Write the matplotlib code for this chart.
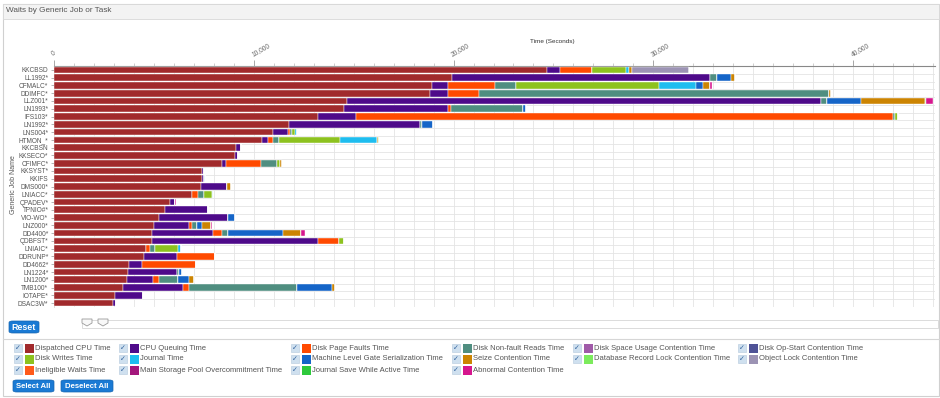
import matplotlib
matplotlib.use("Agg")
import matplotlib.pyplot as plt
from matplotlib.patches import Rectangle, FancyBboxPatch, Polygon
from matplotlib.lines import Line2D
import numpy as np

plt.rcParams['font.family'] = ['Liberation Sans', 'DejaVu Sans']

# ---------------- data ----------------
jobs = ["KKCBSD", "LL1992*", "CFMALC*", "DDIMFC*", "LLZ001*", "LN1993*", "IFS103*",
        "LN1992*", "LNS004*", "HTMON_*", "KKCBSN", "KKSECO*", "CFIMFC*", "KKSYST*",
        "KKIFS", "DMS000*", "LNIACC*", "QPADEV*", "TPNIO#*", "VIO-WO*", "LNZ000*",
        "DD4400*", "QDBFST*", "LNIAIC*", "DDRUNP*", "DD4662*", "LN1224*", "LN1200*",
        "TMB100*", "IOTAPE*", "DSAC3W*"]

dispatched_cpu = [24700, 19900, 18900, 18800, 14650, 14500, 13200, 11750, 10950, 10400,
                  9100, 9050, 8400, 7400, 7400, 7350, 6900, 5800, 5550, 5250, 5000,
                  4900, 4900, 4600, 4500, 3750, 3700, 3650, 3450, 3050, 2950]
cpu_queuing = [650, 12950, 800, 900, 23750, 5200, 1900, 6550, 750, 300,
               250, 150, 200, 100, 100, 1300, 0, 250, 2150, 3450, 1750,
               3050, 8300, 0, 1650, 650, 2450, 1300, 3000, 1400, 150]
disk_page_faults = [1600, 0, 2350, 1550, 0, 150, 26900, 0, 100, 250,
                    0, 0, 1750, 0, 0, 0, 300, 0, 0, 0, 150,
                    450, 1050, 200, 1900, 2700, 0, 300, 300, 0, 0]
disk_nonfault_reads = [0, 350, 1100, 17550, 300, 3650, 100, 100, 100, 300,
                       0, 0, 800, 0, 0, 0, 300, 0, 0, 0, 250,
                       300, 0, 250, 0, 0, 100, 950, 5400, 0, 0]
disk_space_usage = [0] * 31
disk_op_start = [0] * 31
disk_writes = [1700, 0, 7150, 0, 0, 0, 150, 0, 150, 3050,
               0, 0, 150, 0, 0, 0, 400, 0, 0, 0, 0,
               0, 250, 1150, 0, 0, 0, 0, 0, 0, 0]
journal = [150, 0, 1850, 0, 0, 0, 0, 0, 100, 1850,
           0, 0, 0, 0, 50, 0, 50, 0, 0, 0, 0,
           0, 0, 150, 0, 0, 0, 0, 0, 0, 0]
machine_gate = [0, 700, 350, 0, 1700, 150, 0, 550, 0, 0,
                0, 0, 0, 0, 0, 0, 0, 0, 0, 350, 250,
                2750, 0, 0, 0, 0, 150, 550, 1750, 0, 0]
seize = [150, 200, 350, 100, 3200, 0, 0, 0, 0, 50,
         0, 0, 100, 0, 0, 200, 0, 0, 0, 0, 450,
         900, 0, 0, 0, 0, 0, 250, 150, 0, 0]
db_record_lock = [0, 0, 0, 0, 50, 0, 0, 0, 0, 50,
                  0, 0, 0, 0, 0, 0, 0, 0, 0, 0, 0,
                  0, 0, 0, 0, 0, 0, 0, 0, 0, 0]
object_lock = [2850] + [0] * 30
ineligible = [0] * 31
main_storage = [0] * 31
journal_save = [0] * 31
abnormal = [0, 0, 100, 0, 350, 0, 0, 0, 0, 0,
            0, 0, 0, 0, 0, 0, 0, 50, 0, 0, 50,
            200, 0, 0, 0, 0, 0, 0, 0, 0, 0]

series_names = ["Dispatched CPU Time", "CPU Queuing Time", "Disk Page Faults Time",
                "Disk Non-fault Reads Time", "Disk Space Usage Contention Time",
                "Disk Op-Start Contention Time", "Disk Writes Time", "Journal Time",
                "Machine Level Gate Serialization Time", "Seize Contention Time",
                "Database Record Lock Contention Time", "Object Lock Contention Time",
                "Ineligible Waits Time", "Main Storage Pool Overcommitment Time",
                "Journal Save While Active Time", "Abnormal Contention Time"]
series_values = [dispatched_cpu, cpu_queuing, disk_page_faults, disk_nonfault_reads,
                 disk_space_usage, disk_op_start, disk_writes, journal, machine_gate,
                 seize, db_record_lock, object_lock, ineligible, main_storage,
                 journal_save, abnormal]
series_colors = ["#A12A2C", "#4E0A8A", "#FF4A00", "#4F8E80", "#A05AA8", "#4E5296",
                 "#8DC21F", "#1EBDEF", "#1565C8", "#CC8402", "#7CEB5C", "#9C93B4",
                 "#FF5A1A", "#A3177C", "#2EC93C", "#D6168E"]

x_ticks = [0, 10000, 20000, 30000, 40000]
x_tick_labels = ["0", "10,000", "20,000", "30,000", "40,000"]

# ---------------- figure ----------------
W, H = 940, 398
fig = plt.figure(figsize=(W / 100, H / 100), dpi=100)
fig.patch.set_facecolor("white")

def fx(x):
    return x / W

def fy(y):
    return 1 - y / H

# outer frame and header
fig.patches.append(Rectangle((fx(3), fy(396)), fx(936), 392 / H, transform=fig.transFigure,
                             facecolor="none", edgecolor="#d0d0d0", lw=0.8, zorder=0))
fig.patches.append(Rectangle((fx(3), fy(19)), fx(936), 15 / H, transform=fig.transFigure,
                             facecolor="#f3f3f3", edgecolor="#d8d8d8", lw=0.6, zorder=0))
fig.text(fx(6), fy(11), "Waits by Generic Job or Task", fontsize=5.9, color="#555555",
         va="center", ha="left")

# chart axes
ax = fig.add_axes([fx(54), fy(307), fx(881), 241 / H])
ax.set_zorder(5)
ax.patch.set_alpha(0)
ypos = np.arange(len(jobs))
left = np.zeros(len(jobs))
for name, vals, col in zip(series_names, series_values, series_colors):
    v = np.array(vals, dtype=float)
    ax.barh(ypos, v, left=left, height=0.86, color=col, edgecolor="white",
            linewidth=0.3, zorder=3)
    left += v

ax.set_ylim(len(jobs) - 0.5, -0.5)
ax.set_xlim(0, 44100)
ax.set_yticks(ypos)
ax.set_yticklabels(jobs, fontsize=4.7, color="#555555")
ax.set_yticks(ypos + 0.5, minor=True)
ax.tick_params(axis="y", which="major", length=2.5, width=0.5, color="#999999", pad=1.5)
ax.tick_params(axis="y", which="minor", length=0)

ax.xaxis.tick_top()
ax.set_xticks(x_ticks)
ax.set_xticklabels(x_tick_labels, fontsize=4.8, color="#666666", rotation=30,
                   ha="left", rotation_mode="anchor")
ax.set_xticks(np.arange(0, 44100, 1000), minor=True)
ax.tick_params(axis="x", which="major", length=4, width=0.6, color="#999999", pad=2)
ax.tick_params(axis="x", which="minor", length=2, width=0.5, color="#bbbbbb")
ax.grid(True, which="minor", axis="both", color="#e4e4e4", lw=0.6, zorder=0)
ax.grid(True, which="major", axis="x", color="#e4e4e4", lw=0.6, zorder=0)
ax.set_axisbelow(True)
for s in ["right", "bottom"]:
    ax.spines[s].set_visible(False)
ax.spines["top"].set_color("#888888")
ax.spines["top"].set_linewidth(0.8)
ax.spines["left"].set_color("#cccccc")
ax.spines["left"].set_linewidth(0.5)

fig.text(fx(552), fy(41), "Time (Seconds)", fontsize=4.6, color="#333333",
         ha="center", va="center")
fig.text(fx(14), fy(185), "Generic Job Name", fontsize=5.0, color="#555555",
         ha="center", va="center", rotation=90)

# slider and reset
def button(x0, y0, x1, y1, label, fs=6.2):
    fig.patches.append(FancyBboxPatch((fx(x0), fy(y1)), fx(x1 - x0), (y1 - y0) / H,
                                      boxstyle="round,pad=0,rounding_size=0.004",
                                      transform=fig.transFigure, facecolor="#1a7ad4",
                                      edgecolor="#1565b0", lw=0.5, zorder=2))
    fig.text(fx((x0 + x1) / 2), fy((y0 + y1) / 2), label, fontsize=fs, color="white",
             ha="center", va="center", fontweight="bold", zorder=3)

button(9, 321, 39, 333, "Reset", fs=6.4)
fig.patches.append(Rectangle((fx(82), fy(328)), fx(856), 8 / H, transform=fig.transFigure,
                             facecolor="white", edgecolor="#d6d6d6", lw=0.6, zorder=1))
for hx in [87, 103]:
    pts = [(fx(hx - 5), fy(319)), (fx(hx + 5), fy(319)), (fx(hx + 5), fy(323)),
           (fx(hx), fy(326)), (fx(hx - 5), fy(323))]
    fig.patches.append(Polygon(pts, closed=True, transform=fig.transFigure,
                               facecolor="#f8f8f8", edgecolor="#999999", lw=0.6, zorder=2))

# legend area
fig.add_artist(Line2D([fx(3), fx(939)], [fy(339), fy(339)], transform=fig.transFigure,
                      color="#d6d6d6", lw=0.8))
col_x = [14, 119, 291, 452, 573, 738]
row_y = [348, 359, 370]
for i, (name, col) in enumerate(zip(series_names, series_colors)):
    r, c = divmod(i, 6)
    cx = col_x[c]
    yy = row_y[r]
    fig.patches.append(Rectangle((fx(cx), fy(yy + 4)), fx(8), 8 / H,
                                 transform=fig.transFigure, facecolor="#cfe0ef",
                                 edgecolor="#b4c8dc", lw=0.4, zorder=2))
    fig.text(fx(cx + 4), fy(yy + 0.3), "\u2713", fontsize=5, color="#2d5f9a",
             ha="center", va="center", family=["DejaVu Sans"], zorder=3)
    fig.patches.append(Rectangle((fx(cx + 11), fy(yy + 4.5)), fx(9), 9 / H,
                                 transform=fig.transFigure, facecolor=col,
                                 edgecolor="none", zorder=2))
    fig.text(fx(cx + 21), fy(yy), name, fontsize=5.5, color="#555555",
             ha="left", va="center")

button(13, 380, 54, 392, "Select All", fs=5.6)
button(61, 380, 113, 392, "Deselect All", fs=5.6)

fig.savefig("out.png", dpi=100, facecolor="white")
